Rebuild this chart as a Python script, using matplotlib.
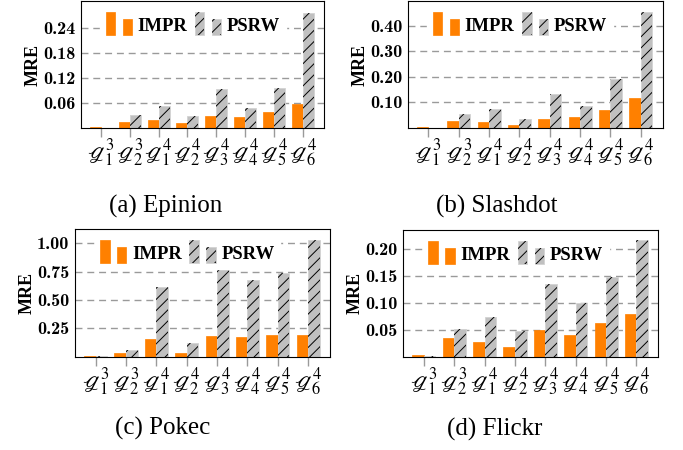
import numpy as np
import matplotlib
matplotlib.use("Agg")
import matplotlib.pyplot as plt
from matplotlib.patches import Rectangle
from matplotlib.legend_handler import HandlerBase

plt.rcParams['mathtext.fontset'] = 'stix'
plt.rcParams['hatch.linewidth'] = 0.7
plt.rcParams['hatch.color'] = 'black'

# data
labels = [r'$\mathscr{g}_1^3$', r'$\mathscr{g}_2^3$', r'$\mathscr{g}_1^4$', r'$\mathscr{g}_2^4$',
          r'$\mathscr{g}_3^4$', r'$\mathscr{g}_4^4$', r'$\mathscr{g}_5^4$', r'$\mathscr{g}_6^4$']

epinion_impr = [0.002, 0.014, 0.020, 0.012, 0.029, 0.026, 0.038, 0.058]
epinion_psrw = [0.001, 0.031, 0.053, 0.030, 0.093, 0.047, 0.095, 0.275]

slashdot_impr = [0.003, 0.029, 0.024, 0.012, 0.034, 0.043, 0.069, 0.119]
slashdot_psrw = [0.001, 0.055, 0.076, 0.035, 0.132, 0.085, 0.193, 0.454]

pokec_impr = [0.005, 0.034, 0.155, 0.034, 0.180, 0.170, 0.196, 0.195]
pokec_psrw = [0.002, 0.058, 0.618, 0.120, 0.783, 0.677, 0.736, 1.031]

flickr_impr = [0.003, 0.034, 0.028, 0.018, 0.049, 0.041, 0.062, 0.079]
flickr_psrw = [0.002, 0.051, 0.074, 0.047, 0.134, 0.100, 0.147, 0.216]

panels = [
    ('(a) Epinion', epinion_impr, epinion_psrw, [0.06, 0.12, 0.18, 0.24], 0.305),
    ('(b) Slashdot', slashdot_impr, slashdot_psrw, [0.10, 0.20, 0.30, 0.40], 0.498),
    ('(c) Pokec', pokec_impr, pokec_psrw, [0.25, 0.50, 0.75, 1.00], 1.128),
    ('(d) Flickr', flickr_impr, flickr_psrw, [0.05, 0.10, 0.15, 0.20], 0.235),
]

W, H = 683, 450
# axes boxes in pixels: x0, x1, ytop, ybottom
boxes = [(81, 324, 1, 128), (407.7, 662.7, 1, 128),
         (75, 330, 229, 356.7), (403.3, 658.3, 229.7, 356.7)]
captions_xy = [(166, 206), (497, 206), (163, 428), (495, 429)]

ORANGE = '#ff8000'
GRAY = '#c0c0c0'
EDGE = '#d2d2d2'


class TwoBars(HandlerBase):
    # pgfplots style ybar legend: two bars, the first one taller
    def create_artists(self, legend, orig, xd, yd, width, height, fontsize, trans):
        w = width * 0.36
        x0, y0 = -xd, -yd - height * 0.3
        hatch = orig.get_hatch()
        arts = []
        for i, hh in enumerate([height * 1.75, height * 1.2]):
            xx = x0 + i * width * 0.64
            if hatch:
                arts.append(Rectangle((xx, y0), w, hh, facecolor=GRAY, edgecolor=EDGE,
                                      lw=0.6, transform=trans))
                arts.append(Rectangle((xx, y0), w, hh, fill=False, edgecolor='black',
                                      lw=0, hatch=hatch, transform=trans))
            else:
                arts.append(Rectangle((xx, y0), w, hh, facecolor=ORANGE, edgecolor=ORANGE,
                                      lw=0.5, transform=trans))
        return arts


fig = plt.figure(figsize=(W / 100, H / 100), dpi=100)
x = np.arange(len(labels))
bw = 0.38

for (title, impr, psrw, yt, ytop), (x0, x1, yt0, yb), (cx, cy) in zip(panels, boxes, captions_xy):
    ax = fig.add_axes([x0 / W, (H - yb) / H, (x1 - x0) / W, (yb - yt0) / H])
    ax.set_axisbelow(True)
    ax.bar(x - bw / 2, impr, bw, color=ORANGE, edgecolor=ORANGE, lw=0.5)
    ax.bar(x + bw / 2, psrw, bw, color=GRAY, edgecolor=EDGE, lw=0.6)
    ax.bar(x + bw / 2, psrw, bw, fill=False, edgecolor='black', lw=0, hatch='///')
    ax.set_xlim(-0.68, 7.72)
    ax.set_ylim(0, ytop)
    ax.set_yticks(yt)
    ax.set_yticklabels(['{:.2f}'.format(v) for v in yt], family='cmb10', fontsize=13)
    ax.yaxis.grid(True, color='#9a9a9a', ls=(0, (5, 3.5)), lw=1.0)
    ax.tick_params(axis='y', length=0, pad=4)
    ax.set_xticks(x)
    ax.set_xticklabels(labels, fontsize=17)
    ax.tick_params(axis='x', length=6.5, width=1.0, color='#9a9a9a', pad=0)
    for s in ax.spines.values():
        s.set_linewidth(0.8)
    ax.set_ylabel('MRE', family='Liberation Serif', fontweight='bold', fontsize=13, labelpad=1)
    handles = [Rectangle((0, 0), 1, 1), Rectangle((0, 0), 1, 1, hatch='///')]
    ax.legend(handles, ['IMPR', 'PSRW'], loc='upper left', ncol=2, frameon=True,
              fancybox=False, edgecolor='white', framealpha=1,
              prop={'family': 'Liberation Serif', 'weight': 'bold', 'size': 13.5},
              handler_map={Rectangle: TwoBars()},
              handlelength=1.4, handletextpad=0.3, columnspacing=0.4,
              borderpad=0.3, bbox_to_anchor=(0.04, 0.985))
    fig.text(cx / W, 1 - cy / H, title, ha='center', va='center',
             family='Liberation Serif', fontsize=18)

fig.savefig('out.png', dpi=100)
